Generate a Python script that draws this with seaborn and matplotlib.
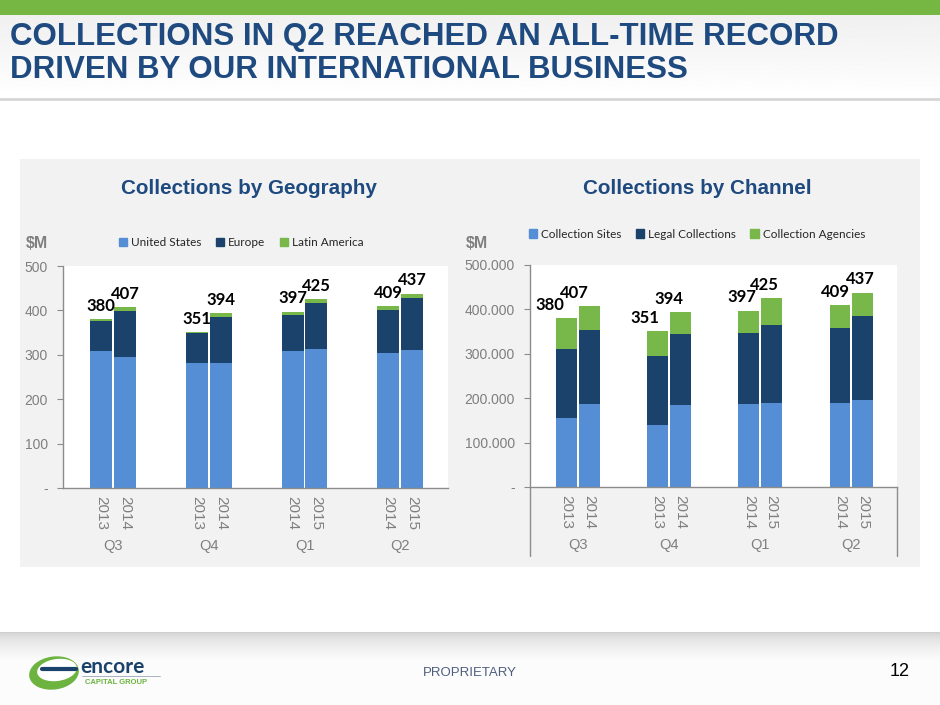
import numpy as np
import pandas as pd
import matplotlib.pyplot as plt
import seaborn as sns
from matplotlib.patches import Rectangle, Patch, Ellipse
from matplotlib.ticker import FuncFormatter
import matplotlib.transforms as mtransforms

# ---- data ($M) ----
quarters = ["Q3", "Q4", "Q1", "Q2"]
years = ["2013", "2014", "2013", "2014", "2014", "2015", "2014", "2015"]
totals = [380, 407, 351, 394, 397, 425, 409, 437]

# by geography
united_states = [308, 296, 281, 281, 308, 313, 305, 311]
europe = [69, 103, 67, 104, 82, 104, 97, 118]
latin_america = [3, 8, 3, 9, 7, 8, 7, 8]

# by channel
collection_sites = [156, 188, 139, 184, 187, 189, 190, 195]
legal_collections = [154, 165, 156, 161, 159, 176, 169, 190]
collection_agencies = [70, 54, 56, 49, 51, 60, 50, 52]

# colours
LIGHT_BLUE = "#558ED5"
NAVY = "#1B426B"
GREEN = "#78B74A"
TITLE_BLUE = "#1E4A80"
GREY = "#7F7F7F"

sns.set_style("white")
plt.rcParams["font.family"] = ["Liberation Sans", "DejaVu Sans"]

df = pd.DataFrame({
    "quarter": np.repeat(quarters, 2),
    "year": years,
    "total": totals,
})
idx = np.arange(len(df))
df["pos"] = idx // 2 * 4 + idx % 2

fig = plt.figure(figsize=(9.4, 7.05), dpi=100)

# background canvas in pixel coords
bg = fig.add_axes([0, 0, 1, 1])
bg.axis("off")

grad = np.linspace(0, 1, 64).reshape(-1, 1)
bg.imshow(0.94 + 0.06 * grad, extent=(0, 940, 98, 15), cmap="gray", vmin=0, vmax=1, aspect="auto")
bg.add_patch(Rectangle((0, 0), 940, 15, color="#76B743", lw=0))
bg.plot([0, 940], [98.5, 98.5], color="#D6D6D6", lw=2)
bg.add_patch(Rectangle((0, 100), 940, 532, color="white", lw=0))
bg.add_patch(Rectangle((20, 159), 900, 408, color="#F2F2F2", lw=0))
bg.imshow(0.96 - 0.09 * grad, extent=(20, 920, 216, 159), cmap="gray", vmin=0, vmax=1, aspect="auto")
bg.imshow(0.80 + 0.19 * np.sqrt(grad), extent=(0, 940, 662, 632), cmap="gray", vmin=0, vmax=1, aspect="auto")
bg.add_patch(Rectangle((0, 662), 940, 43, color="#FCFCFC", lw=0))
bg.set_xlim(0, 940)
bg.set_ylim(705, 0)

renderer = fig.canvas.get_renderer()


def fit(t, width_px):
    w = t.get_window_extent(renderer).width
    t.set_fontsize(t.get_fontsize() * width_px / w)
    return t.get_fontsize()


t1 = bg.text(10, 37, "COLLECTIONS IN Q2 REACHED AN ALL-TIME RECORD", fontsize=21,
             fontweight="bold", color=TITLE_BLUE, va="center", ha="left")
size = fit(t1, 828)
bg.text(10, 70, "DRIVEN BY OUR INTERNATIONAL BUSINESS", fontsize=size,
        fontweight="bold", color=TITLE_BLUE, va="center", ha="left")

h1 = bg.text(249, 188, "Collections by Geography", fontsize=15, fontweight="bold",
             color=TITLE_BLUE, ha="center", va="center")
hs = fit(h1, 258)
bg.text(697, 188, "Collections by Channel", fontsize=hs, fontweight="bold",
        color=TITLE_BLUE, ha="center", va="center")

for x in (26, 466):
    bg.text(x, 243, "$M", fontsize=11.5, fontweight="bold", color=GREY, va="center")

# footer / logo
bg.add_patch(Ellipse((54, 673), 50, 33, angle=-8, facecolor="#6DB33F", edgecolor="none"))
bg.add_patch(Ellipse((57, 670), 40, 22, angle=-8, facecolor="white", edgecolor="none"))
bg.plot([42, 76], [669, 669], color=NAVY, lw=3, solid_capstyle="round")
bg.text(80, 667, "encore", fontsize=15, color=NAVY, fontweight="bold", va="center",
        family=["Lato", "DejaVu Sans"])
bg.text(85, 683, "CAPITAL GROUP", fontsize=5.5, color="#6DB33F", fontweight="bold", va="center")
bg.plot([82, 160], [676, 676], color="#9AA7B5", lw=0.6)
bg.text(470, 673, "PROPRIETARY", fontsize=9.5, color="#4E5E7E", ha="center", va="center")
bg.text(910, 672, "12", fontsize=13, color="black", ha="right", va="center")


def stacked(ax, layers, colors, ylabels_fmt, label_shift):
    cum = np.cumsum(np.array(layers), axis=0)
    # draw cumulative totals from the top layer down so each segment shows
    for level in range(len(layers) - 1, -1, -1):
        d = df.assign(v=cum[level])
        sns.barplot(data=d, x="pos", y="v", native_scale=True, width=0.92,
                    color=colors[level], saturation=1, errorbar=None,
                    linewidth=0, ax=ax)
    for (_, r), dx in zip(df.iterrows(), label_shift):
        ax.annotate(str(r["total"]), xy=(r["pos"], r["total"]), xytext=(dx, 4),
                    textcoords="offset points", ha="center", va="bottom",
                    fontsize=12, fontweight="bold", color="black",
                    family=["Lato", "DejaVu Sans"])
    ax.set_xlim(-1.6, 14.5)
    ax.set_ylim(0, 500)
    ax.set_facecolor("white")
    ax.set_xlabel("")
    ax.set_ylabel("")
    ax.set_yticks([0, 100, 200, 300, 400, 500])
    ax.yaxis.set_major_formatter(FuncFormatter(ylabels_fmt))
    ax.set_xticks(df["pos"])
    ax.set_xticklabels(df["year"], rotation=-90)
    ax.tick_params(axis="y", left=True, length=4, width=0.8, color="#8C8C8C",
                   labelsize=10, labelcolor=GREY, pad=7)
    ax.tick_params(axis="x", length=0, labelsize=11, labelcolor=GREY, pad=6)
    for s in ("top", "right"):
        ax.spines[s].set_visible(False)
    for s in ("left", "bottom"):
        ax.spines[s].set_color("#8C8C8C")
        ax.spines[s].set_linewidth(1)
    trans = mtransforms.blended_transform_factory(ax.transData, ax.transAxes)
    for g, q in enumerate(quarters):
        ax.text(g * 4 + 0.5, -0.262, q, transform=trans, ha="center", va="center",
                fontsize=10.5, color=GREY)


ax1 = fig.add_axes([63 / 940, 1 - 488 / 705, 385 / 940, 222 / 705])
stacked(ax1, [united_states, europe, latin_america], [LIGHT_BLUE, NAVY, GREEN],
        lambda v, p: f"{v:.0f}" if v else "-", [0] * 8)

ax2 = fig.add_axes([530 / 940, 1 - 487 / 705, 367 / 940, 222 / 705])
stacked(ax2, [collection_sites, legal_collections, collection_agencies], [LIGHT_BLUE, NAVY, GREEN],
        lambda v, p: f"{v * 1000:,.0f}".replace(",", ".") if v else "-",
        [-12, -11, -9, -8, -5, -5, -3, -1.5])
for xa in (0, 1):
    ax2.plot([xa, xa], [0, -0.31], transform=ax2.transAxes, clip_on=False,
             color="#8C8C8C", lw=1)

leg_kw = dict(frameon=False, ncol=3, loc="center left", handlelength=0.7, handleheight=0.7,
              handletextpad=0.35, columnspacing=1.2, borderpad=0, borderaxespad=0,
              bbox_transform=fig.transFigure,
              prop={"family": ["Lato", "DejaVu Sans"], "size": 8.5})
ax1.legend([Patch(color=c) for c in (LIGHT_BLUE, NAVY, GREEN)],
           ["United States", "Europe", "Latin America"],
           bbox_to_anchor=(119 / 940, 1 - 243 / 705), **leg_kw)
ax2.legend([Patch(color=c) for c in (LIGHT_BLUE, NAVY, GREEN)],
           ["Collection Sites", "Legal Collections", "Collection Agencies"],
           bbox_to_anchor=(529 / 940, 1 - 234 / 705), **leg_kw)

fig.savefig("out.png", dpi=100)
